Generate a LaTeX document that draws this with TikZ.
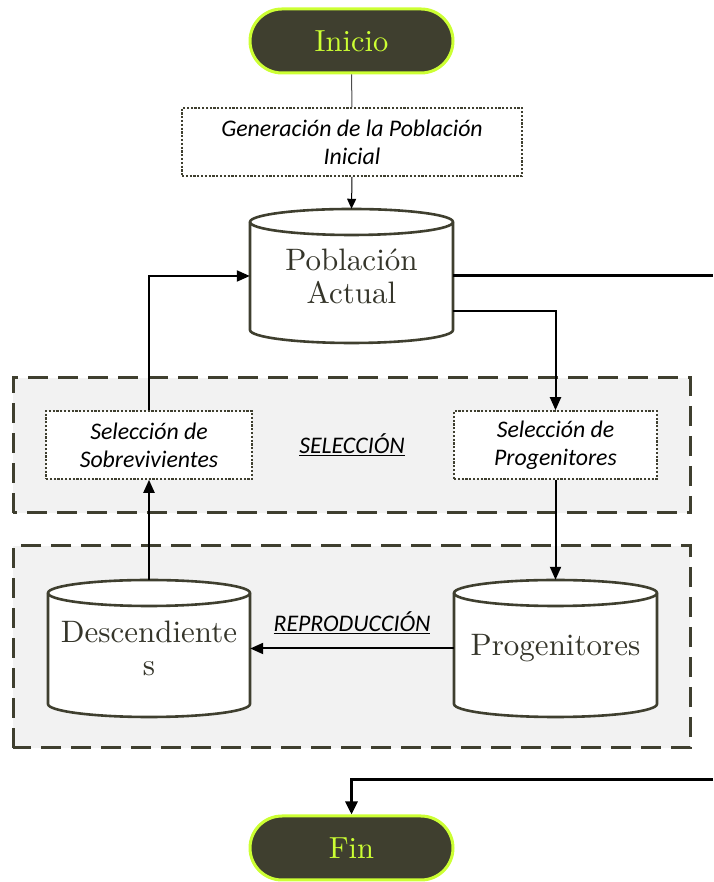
\documentclass[tikz,border=0pt]{standalone}
\usepackage{fontspec}
\setmainfont{lmroman10-regular.otf}
\newfontfamily\carl{Carlito}
\usetikzlibrary{arrows.meta}
\definecolor{olive}{HTML}{3F3F2F}
\definecolor{olivetext}{HTML}{35352A}
\definecolor{lime}{HTML}{CCFF33}
\definecolor{panel}{HTML}{F2F2F2}
\tikzset{
  pill/.style={draw=lime, line width=3pt, fill=olive, text=lime, rounded corners=32pt,
    minimum width=203pt, minimum height=64pt, inner sep=0pt, font=\fontsize{30.5}{33}\selectfont},
  dotbox/.style={draw=olive, line width=1.6pt, dash pattern=on 2.2pt off 1.6pt, fill=white,
    inner sep=0pt, align=center, font=\carl\itshape\fontsize{23.8}{28}\selectfont},
  panelbox/.style={draw=olive, line width=3pt, dash pattern=on 20pt off 10pt, fill=panel},
  cylline/.style={draw=olive, line width=2.6pt, fill=white},
  cylnode/.style={inner sep=0pt, align=center, text=olivetext, font=\fontsize{31}{33}\selectfont},
  lbl/.style={inner sep=0pt, font=\carl\itshape\fontsize{23.8}{28}\selectfont},
  conn/.style={line width=2pt, -{Triangle[length=13pt,width=11pt]}},
  thick conn/.style={line width=3pt},
}
\begin{document}
\begin{tikzpicture}[x=1pt,y=1pt]
\useasboundingbox (0,0) rectangle (713,882);
% panels
\path[panelbox] (13,369) rectangle (690,504);
\path[panelbox] (13,134) rectangle (690,336);
% cylinders
\filldraw[cylline] (250,660) -- (250,552) arc[start angle=180,end angle=360,x radius=101.5pt,y radius=13pt]
  -- (453,660) arc[start angle=0,end angle=180,x radius=101.5pt,y radius=13pt] -- cycle;
\draw[cylline, fill=none] (250,660) arc[start angle=180,end angle=360,x radius=101.5pt,y radius=13pt];
\filldraw[cylline] (48,289) -- (48,178) arc[start angle=180,end angle=360,x radius=101pt,y radius=13pt]
  -- (250,289) arc[start angle=0,end angle=180,x radius=101pt,y radius=13pt] -- cycle;
\draw[cylline, fill=none] (48,289) arc[start angle=180,end angle=360,x radius=101pt,y radius=13pt];
\filldraw[cylline] (454,289) -- (454,178) arc[start angle=180,end angle=360,x radius=101.5pt,y radius=13pt]
  -- (657,289) arc[start angle=0,end angle=180,x radius=101.5pt,y radius=13pt] -- cycle;
\draw[cylline, fill=none] (454,289) arc[start angle=180,end angle=360,x radius=101.5pt,y radius=13pt];
% nodes
\node[pill] (ini) at (351.5,841) {Inicio};
\node[dotbox, minimum width=340pt, minimum height=68pt] (gen) at (352,740) {Generación de la Población\\Inicial};
\node[cylnode, minimum width=203pt, minimum height=134pt] (pa) at (351.5,606) {Población\\Actual};
\node[dotbox, minimum width=206pt, minimum height=68pt] (ss) at (149,437) {Selección de\\Sobrevivientes};
\node[dotbox, minimum width=203pt, minimum height=68pt] (sp) at (555.5,437) {Selección de\\Progenitores};
\node[lbl] (lsel) at (352,437) {\underline{SELECCIÓN}};
\node[cylnode, minimum width=202pt, minimum height=137pt] (desc) at (149,233.5) {Descendiente\\s};
\node[cylnode, minimum width=203pt, minimum height=137pt] (prog) at (555.5,233.5) {Progenitores};
\node[lbl] (lrep) at (352,259) {\underline{REPRODUCCIÓN}};
\node[pill] (fin) at (351.5,34) {Fin};
\coordinate (ra) at (713,606);
\coordinate (rb) at (713,102);
% connectors
\draw[line width=1pt, draw=black!70] (ini.south) -- (gen.north);
\draw[line width=1pt, -{Triangle[length=10pt,width=9pt]}] (gen.south) -- (pa.north);
\draw[thick conn] (pa.east) -- (pa.east -| ra);
\draw[conn] ([yshift=-35pt]pa.east) -| (sp.north);
\draw[conn] (ss.north) |- (pa.west);
\draw[conn] (sp.south) -- (prog.north);
\draw[conn] (prog.west) -- (desc.east);
\draw[conn] (desc.north) -- (desc.north |- ss.south);
\draw[line width=3pt, -{Triangle[length=13pt,width=12pt]}] (rb) -| (fin.north);
\end{tikzpicture}
\end{document}
